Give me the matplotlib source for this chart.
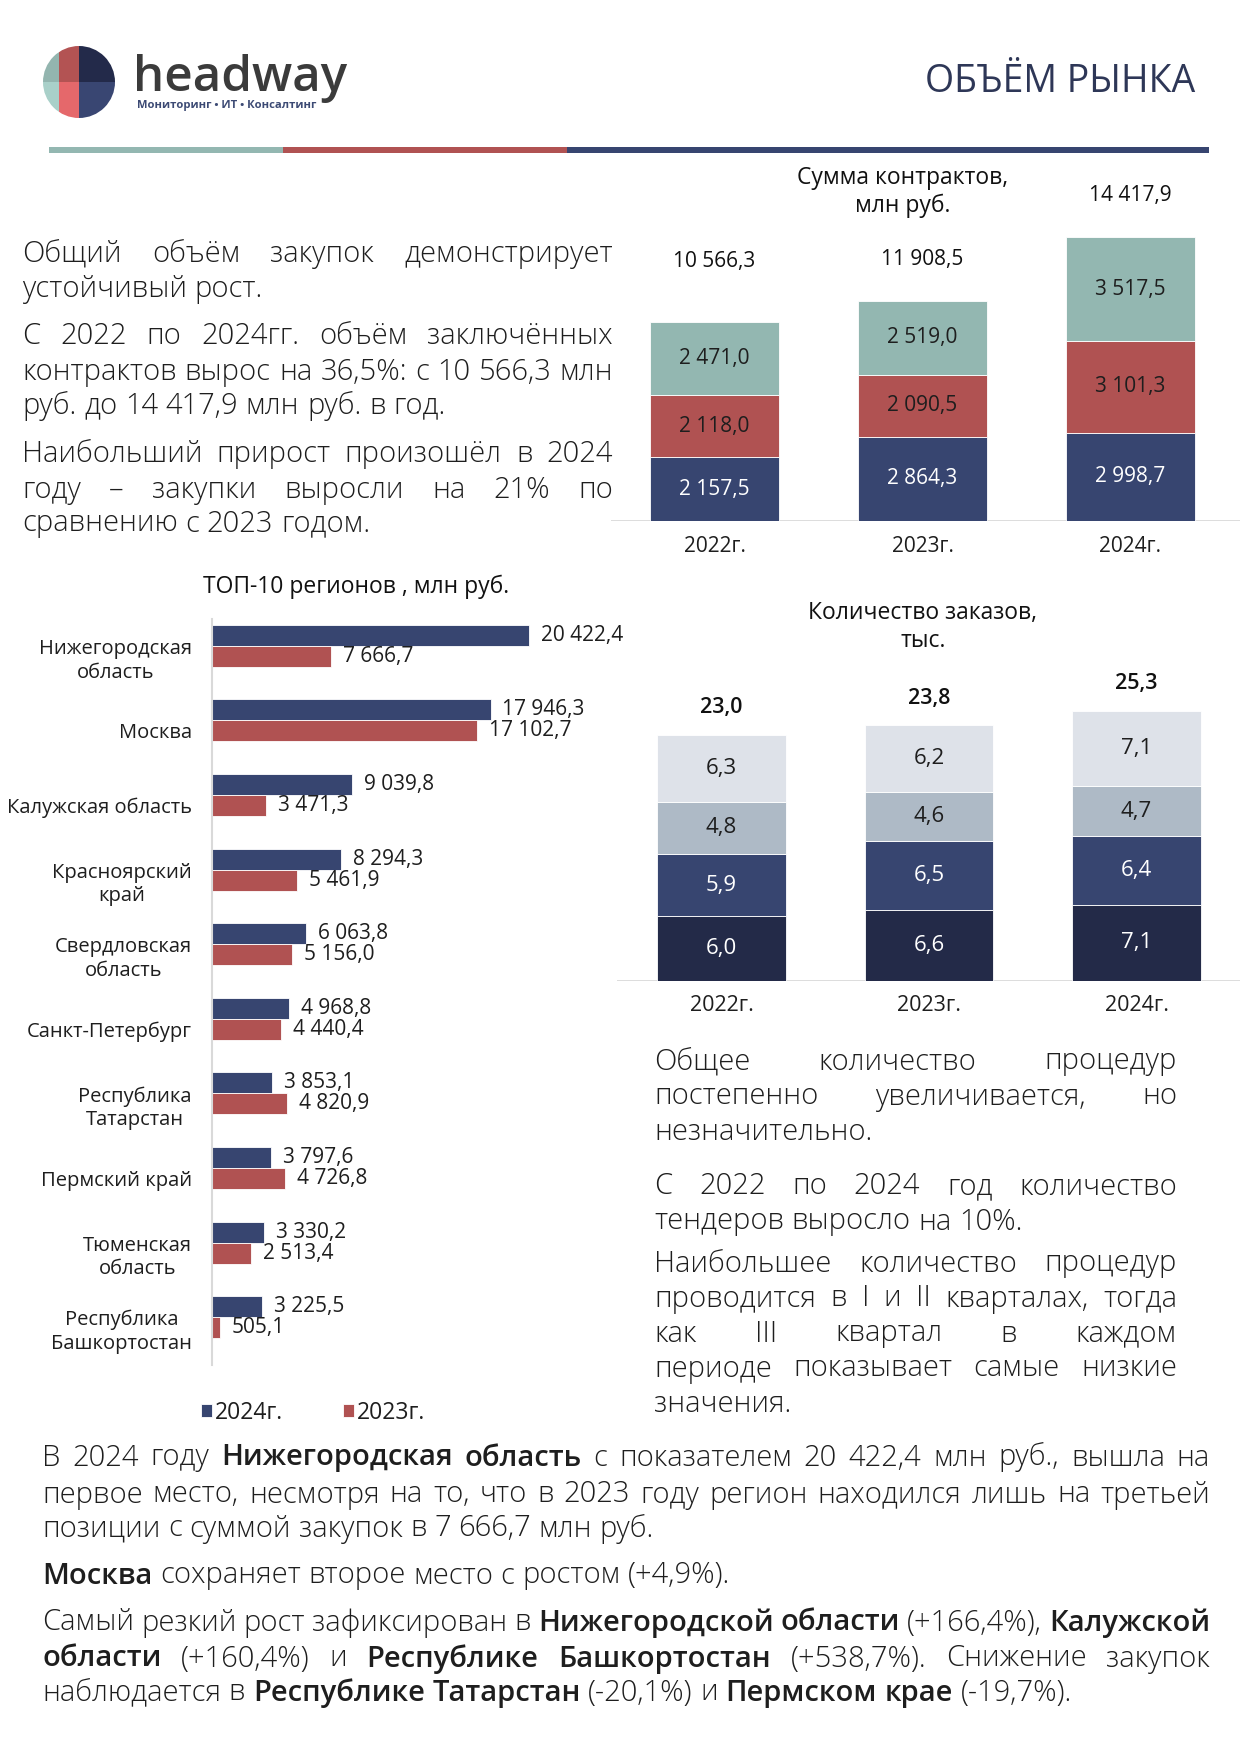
import matplotlib
matplotlib.use('Agg')
import matplotlib.pyplot as plt
from matplotlib.patches import Rectangle, Circle

plt.rcParams['font.family'] = ['Open Sans', 'DejaVu Sans']

W, H = 1240, 1755
TXT = '#1E1E1E'
NAVY = '#374570'
DARK = '#232A48'
RED = '#B05252'
TEAL = '#93B7B1'
GREYBLUE = '#AEBAC6'
LIGHT = '#DEE2E9'
LINE = '#D9D9D9'

# ---- data ----
years = ['2022г.', '2023г.', '2024г.']

# сумма контрактов, млн руб. (три сегмента + итог за год)
sum_q1 = [2157.5, 2864.3, 2998.7]
sum_q2 = [2118.0, 2090.5, 3101.3]
sum_q3 = [2471.0, 2519.0, 3517.5]
sum_total = [10566.3, 11908.5, 14417.9]
sum_total_y = [8810, 8880, 11050]   # where the totals sit in the chart

# количество заказов, тыс.
cnt_q1 = [6.0, 6.6, 7.1]
cnt_q2 = [5.9, 6.5, 6.4]
cnt_q3 = [4.8, 4.6, 4.7]
cnt_q4 = [6.3, 6.2, 7.1]
cnt_total = [23.0, 23.8, 25.3]

# топ-10 регионов, млн руб.
regions = ['Нижегородская\nобласть', 'Москва', 'Калужская область',
           'Красноярский\nкрай', 'Свердловская\nобласть', 'Санкт-Петербург',
           'Республика\nТатарстан', 'Пермский край', 'Тюменская\nобласть',
           'Республика\nБашкортостан']
reg_2024 = [20422.4, 17946.3, 9039.8, 8294.3, 6063.8, 4968.8, 3853.1, 3797.6, 3330.2, 3225.5]
reg_2023 = [7666.7, 17102.7, 3471.3, 5461.9, 5156.0, 4440.4, 4820.9, 4726.8, 2513.4, 505.1]


def fmt(v):
    return f'{v:,.1f}'.replace(',', ' ').replace('.', ',')


fig = plt.figure(figsize=(W / 100, H / 100), dpi=100)
bg = fig.add_axes([0, 0, 1, 1])
bg.set_xlim(0, W)
bg.set_ylim(H, 0)
bg.axis('off')
renderer = fig.canvas.get_renderer()


def px_axes(left, top, right, bottom):
    return fig.add_axes([left / W, 1 - bottom / H, (right - left) / W, (bottom - top) / H])


# ---- header ----
logo = px_axes(40, 43, 118, 121)
logo.set_xlim(40, 118)
logo.set_ylim(121, 43)
logo.axis('off')
clip = Circle((79, 82), 36, transform=logo.transData)
for x0, x1, y0, y1, c in [(40, 59, 40, 82, '#93B5AF'), (40, 59, 82, 125, '#A9D0C9'),
                          (59, 79, 40, 82, '#B35353'), (59, 79, 82, 125, '#E5686B'),
                          (79, 120, 40, 82, '#232A4A'), (79, 120, 82, 125, '#394672')]:
    r = Rectangle((x0, y0), x1 - x0, y1 - y0, color=c, lw=0)
    logo.add_patch(r)
    r.set_clip_path(clip)

bg.text(133, 91, 'headway', fontsize=35.5, fontweight='semibold', color='#3B3B3B',
        ha='left', va='baseline')
bg.text(137, 105, 'Мониторинг • ИТ • Консалтинг', fontsize=8.1, fontweight='bold',
        color='#3C4A74', ha='left', va='center')
bg.text(1195, 82, 'ОБЪЁМ РЫНКА', fontsize=27, color='#2E3757', ha='right', va='center')

bg.add_patch(Rectangle((49, 147), 234, 6, color=TEAL, lw=0))
bg.add_patch(Rectangle((283, 147), 284, 6, color=RED, lw=0))
bg.add_patch(Rectangle((567, 147), 642, 6, color=NAVY, lw=0))


# ---- justified text ----
def word_w(s, size, weight):
    t = bg.text(0, 0, s, fontsize=size, fontweight=weight)
    w = t.get_window_extent(renderer).width
    t.remove()
    return w


def text_line(runs, x0, x1, y, size=21, justify=True):
    words = []
    for s, b in runs:
        words += [(w, b) for w in s.split()]
    weights = ['semibold' if b else 'light' for _, b in words]
    widths = [word_w(w, size, wt) for (w, _), wt in zip(words, weights)]
    if justify and len(words) > 1:
        gap = (x1 - x0 - sum(widths)) / (len(words) - 1)
    else:
        gap = word_w('н н', size, 'light') - 2 * word_w('н', size, 'light')
    x = x0
    for (w, _), wd, wt in zip(words, widths, weights):
        bg.text(x, y + 10.5, w, fontsize=size, fontweight=wt, color=TXT,
                ha='left', va='baseline')
        x += wd + gap


left_lines = [
    ('Общий объём закупок демонстрирует', 251, True),
    ('устойчивый рост.', 286, False),
    ('С 2022 по 2024гг. объём заключённых', 333, True),
    ('контрактов вырос на 36,5%: с 10 566,3 млн', 369, True),
    ('руб. до 14 417,9 млн руб. в год.', 403, False),
    ('Наибольший прирост произошёл в 2024', 451, True),
    ('году – закупки выросли на 21% по', 487, True),
    ('сравнению с 2023 годом.', 521, False),
]
for s, y, j in left_lines:
    text_line([(s, False)], 22, 613, y, justify=j)

right_lines = [
    ('Общее количество процедур', 1059, True),
    ('постепенно увеличивается, но', 1094, True),
    ('незначительно.', 1129, False),
    ('С 2022 по 2024 год количество', 1184, True),
    ('тендеров выросло на 10%.', 1219, False),
    ('Наибольшее количество процедур', 1261, True),
    ('проводится в I и II кварталах, тогда', 1296, True),
    ('как III квартал в каждом', 1331, True),
    ('периоде показывает самые низкие', 1366, True),
    ('значения.', 1401, False),
]
for s, y, j in right_lines:
    text_line([(s, False)], 654, 1177, y, justify=j)

bottom_lines = [
    ([('В 2024 году', False), ('Нижегородская область', True),
      ('с показателем 20 422,4 млн руб., вышла на', False)], 1455, True),
    ([('первое место, несмотря на то, что в 2023 году регион находился лишь на третьей', False)], 1492, True),
    ([('позиции с суммой закупок в 7 666,7 млн руб.', False)], 1526, False),
    ([('Москва', True), ('сохраняет второе место с ростом (+4,9%).', False)], 1573, False),
    ([('Самый резкий рост зафиксирован в', False), ('Нижегородской области', True),
      ('(+166,4%),', False), ('Калужской', True)], 1620, True),
    ([('области', True), ('(+160,4%) и', False), ('Республике Башкортостан', True),
      ('(+538,7%). Снижение закупок', False)], 1656, True),
    ([('наблюдается в', False), ('Республике Татарстан', True), ('(-20,1%) и', False),
      ('Пермском крае', True), ('(-19,7%).', False)], 1690, False),
]
for runs, y, j in bottom_lines:
    text_line(runs, 42, 1210, y, justify=j)


# ---- chart 1: сумма контрактов ----
ax1 = px_axes(611, 160, 1240, 521)
ax1.set_xlim(-(714.5 - 611) / 208, 2 + (1240 - 1130.5) / 208)
ax1.set_ylim(0, (521 - 160) / 0.0295)
ax1.axis('off')
xs = range(len(years))
b1 = ax1.bar(xs, sum_q1, 0.62, color=NAVY, edgecolor='white', lw=0.6)
b2 = ax1.bar(xs, sum_q2, 0.62, bottom=sum_q1, color=RED, edgecolor='white', lw=0.6)
base3 = [a + b for a, b in zip(sum_q1, sum_q2)]
b3 = ax1.bar(xs, sum_q3, 0.62, bottom=base3, color=TEAL, edgecolor='white', lw=0.6)
ax1.axhline(0, color=LINE, lw=2, zorder=0)
ax1.bar_label(b1, labels=[fmt(v) for v in sum_q1], label_type='center', color='white', fontsize=15)
ax1.bar_label(b2, labels=[fmt(v) for v in sum_q2], label_type='center', color=TXT, fontsize=15)
ax1.bar_label(b3, labels=[fmt(v) for v in sum_q3], label_type='center', color=TXT, fontsize=15)
for i, (v, ly) in enumerate(zip(sum_total, sum_total_y)):
    ax1.text(i, ly, fmt(v), ha='center', va='center', fontsize=15, fontweight='medium', color='#111111')
    ax1.annotate(years[i], (i, 0), xytext=(0, -26), textcoords='offset pixels',
                 ha='center', va='center', fontsize=15, color=TXT)
bg.text(903, 192, 'Сумма контрактов,\nмлн руб.', ha='center', va='center', fontsize=16.5,
        fontweight='medium', color='#111111', linespacing=1.25)


# ---- chart 2: топ-10 регионов ----
ax2 = px_axes(212, 619, 612, 1365)
ax2.set_xlim(0, 400 / 0.01552)
ax2.set_ylim(len(regions), 0)
centers = [i + 0.5 for i in range(len(regions))]
bh = 21 / 74.6
r24 = ax2.barh([c - bh for c in centers], reg_2024, height=bh, color=NAVY, edgecolor='white',
               lw=0.6, label='2024г.')
r23 = ax2.barh(centers, reg_2023, height=bh, color=RED, edgecolor='white', lw=0.6, label='2023г.')
ax2.bar_label(r24, labels=[fmt(v) for v in reg_2024], padding=8.6, fontsize=15, color=TXT)
ax2.bar_label(r23, labels=[fmt(v) for v in reg_2023], padding=8.6, fontsize=15, color=TXT)
ax2.set_yticks(centers, regions, fontsize=14.5, color=TXT, multialignment='center',
               linespacing=1.25)
ax2.tick_params(axis='y', length=0, pad=14.4)
ax2.set_xticks([])
for s in ['top', 'right', 'bottom']:
    ax2.spines[s].set_visible(False)
ax2.spines['left'].set_color(LINE)
ax2.spines['left'].set_linewidth(1.5)
ax2.legend(loc='center', bbox_to_anchor=(313 / W, 1 - 1413 / H), bbox_transform=fig.transFigure,
           ncol=2, frameon=False, fontsize=16.5, handlelength=0.48, handleheight=0.48,
           handletextpad=0.12, columnspacing=2.6, labelcolor=TXT)
bg.text(356, 587, 'ТОП-10 регионов , млн руб.', ha='center', va='center', fontsize=16.5,
        fontweight='medium', color='#111111')


# ---- chart 3: количество заказов ----
ax3 = px_axes(617, 660, 1240, 980.5)
ax3.set_xlim(-(721.5 - 617) / 207.5, 2 + (1240 - 1136.5) / 207.5)
ax3.set_ylim(0, 320.5 / 10.67)
ax3.axis('off')
bottom = [0, 0, 0]
for vals, col, tcol in [(cnt_q1, DARK, 'white'), (cnt_q2, NAVY, 'white'),
                        (cnt_q3, GREYBLUE, TXT), (cnt_q4, LIGHT, TXT)]:
    bars = ax3.bar(xs, vals, 0.62, bottom=bottom, color=col, edgecolor='white', lw=0.6)
    ax3.bar_label(bars, labels=[f'{v:.1f}'.replace('.', ',') for v in vals],
                  label_type='center', color=tcol, fontsize=16)
    bottom = [a + b for a, b in zip(bottom, vals)]
ax3.axhline(0, color=LINE, lw=2, zorder=0)
for i, v in enumerate(cnt_total):
    ax3.text(i, bottom[i] + 2.55, f'{v:.1f}'.replace('.', ','), ha='center', va='center',
             fontsize=15.5, fontweight='semibold', color='#111111')
    ax3.annotate(years[i], (i, 0), xytext=(0, -25), textcoords='offset pixels',
                 ha='center', va='center', fontsize=15.5, color=TXT)
bg.text(923, 627, 'Количество заказов,\nтыс.', ha='center', va='center', fontsize=16.5,
        fontweight='medium', color='#111111', linespacing=1.25)

fig.savefig('out.png', dpi=100)
